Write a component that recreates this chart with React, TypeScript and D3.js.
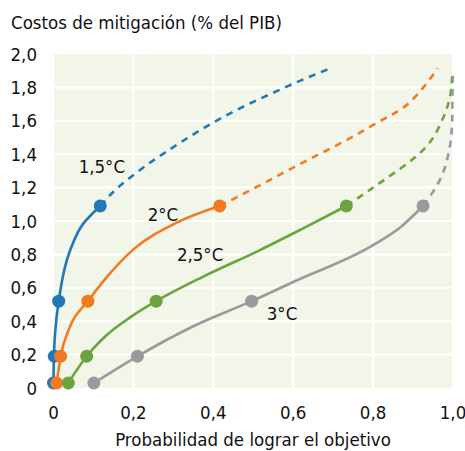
import React from "react";
import * as d3 from "d3";

type P = [number, number];

const xTicks = [0, 0.2, 0.4, 0.6, 0.8, 1.0];
const yTicks = [0, 0.2, 0.4, 0.6, 0.8, 1.0, 1.2, 1.4, 1.6, 1.8, 2.0];

const seriesNames = ["1,5°C", "2°C", "2,5°C", "3°C"];
const seriesColors = ["#2277B8", "#F47A20", "#6BA43F", "#9A9A9E"];

// marked points (probability, cost)
const dots15: P[] = [[0.0, 0.03], [0.002, 0.19], [0.013, 0.52], [0.117, 1.09]];
const dots20: P[] = [[0.008, 0.03], [0.018, 0.19], [0.086, 0.52], [0.416, 1.09]];
const dots25: P[] = [[0.037, 0.03], [0.083, 0.19], [0.257, 0.52], [0.733, 1.09]];
const dots30: P[] = [[0.101, 0.03], [0.21, 0.19], [0.496, 0.52], [0.925, 1.09]];

// solid curves
const solid15: P[] = [[0.0, 0.03], [0.001, 0.19], [0.004, 0.33], [0.013, 0.52], [0.042, 0.826], [0.075, 0.986], [0.117, 1.09]];
const solid20: P[] = [[0.008, 0.03], [0.018, 0.19], [0.04, 0.36], [0.086, 0.52], [0.125, 0.64], [0.2, 0.83], [0.308, 0.99], [0.416, 1.09]];
const solid25: P[] = [[0.037, 0.03], [0.083, 0.19], [0.13, 0.31], [0.19, 0.42], [0.257, 0.52], [0.375, 0.667], [0.517, 0.826], [0.62, 0.95], [0.733, 1.09]];
const solid30: P[] = [[0.101, 0.03], [0.21, 0.19], [0.35, 0.37], [0.496, 0.52], [0.6, 0.635], [0.8, 0.856], [0.867, 0.96], [0.925, 1.09]];

// dashed extensions
const dash15: P[] = [[0.117, 1.09], [0.15, 1.175], [0.2, 1.275], [0.308, 1.455], [0.4, 1.59], [0.575, 1.795], [0.692, 1.914]];
const dash20: P[] = [[0.416, 1.09], [0.462, 1.146], [0.6, 1.32], [0.8, 1.575], [0.9, 1.73], [0.962, 1.914]];
const dash25: P[] = [[0.733, 1.09], [0.8, 1.2], [0.933, 1.445], [0.975, 1.615], [0.996, 1.8], [0.998, 1.9]];
const dash30: P[] = [[0.925, 1.09], [0.967, 1.245], [0.992, 1.445], [0.998, 1.605], [0.999, 1.8], [1.0, 1.9]];

const allDots = [dots15, dots20, dots25, dots30];
const allSolid = [solid15, solid20, solid25, solid30];
const allDash = [dash15, dash20, dash25, dash30];
// interpolation: true = curve follows y (near-vertical), false = follows x
const solidAlongY = [true, false, false, false];
const dashAlongY = [false, false, true, true];

const labelPos: P[] = [[0.121, 1.289], [0.274, 1.0], [0.367, 0.76], [0.572, 0.407]];

const FONT = "'DejaVu Sans Condensed', 'DejaVu Sans', sans-serif";

export default function App() {
  const W = 465, H = 451;
  const x = d3.scaleLinear().domain([0, 1]).range([53.5, 453]);
  const y = d3.scaleLinear().domain([0, 2]).range([388, 54]);
  const lineY = d3.line<P>().x(d => x(d[0])).y(d => y(d[1])).curve(d3.curveMonotoneY);
  const lineX = d3.line<P>().x(d => x(d[0])).y(d => y(d[1])).curve(d3.curveMonotoneX);
  const fs = 18.5;
  const fmt = (t: number) => (t === 0 ? "0" : d3.format(".1f")(t).replace(".", ","));

  return (
    <svg width={W} height={H} style={{ position: "absolute", left: 0, top: 0, background: "#fff" }} fontFamily={FONT} fontStretch="condensed">
      <rect x={x(0) + 0.5} y={y(2)} width={x(1) - x(0) - 1.5} height={y(0) - y(2)} fill="#F2F6E8" />
      {yTicks.filter(t => t > 0 && t < 2).map(t => (
        <line key={"gy" + t} x1={x(0)} x2={x(1)} y1={y(t)} y2={y(t)} stroke="#fff" strokeWidth={2} />
      ))}
      {xTicks.filter(t => t > 0 && t < 1).map(t => (
        <line key={"gx" + t} x1={x(t)} x2={x(t)} y1={y(0)} y2={y(2)} stroke="#fff" strokeWidth={2} />
      ))}
      {yTicks.map(t => (
        <text key={"ty" + t} x={37} y={y(t) + 6.5} textAnchor="end" fontSize={fs} fill="#111">
          {fmt(t)}
        </text>
      ))}
      {xTicks.map(t => (
        <text key={"tx" + t} x={x(t)} y={419} textAnchor="middle" fontSize={fs} fill="#111">
          {fmt(t)}
        </text>
      ))}
      <text x={11} y={29} fontSize={fs} fill="#111">Costos de mitigación (% del PIB)</text>
      <text x={253} y={446} textAnchor="middle" fontSize={fs} fill="#111">Probabilidad de lograr el objetivo</text>
      {allDash.map((d, i) => (
        <path key={"d" + i} d={(dashAlongY[i] ? lineY : lineX)(d) || ""} fill="none" stroke={seriesColors[i]} strokeWidth={2.6} strokeDasharray="7,6" />
      ))}
      {allSolid.map((d, i) => (
        <path key={"s" + i} d={(solidAlongY[i] ? lineY : lineX)(d) || ""} fill="none" stroke={seriesColors[i]} strokeWidth={2.6} />
      ))}
      {allDots.map((ds, i) =>
        ds.map((p, j) => <circle key={"c" + i + "-" + j} cx={x(p[0])} cy={y(p[1])} r={6.5} fill={seriesColors[i]} />)
      )}
      {seriesNames.map((n, i) => (
        <text key={"l" + i} x={x(labelPos[i][0])} y={y(labelPos[i][1])} textAnchor="middle" fontSize={fs} fill="#111">{n}</text>
      ))}
    </svg>
  );
}
